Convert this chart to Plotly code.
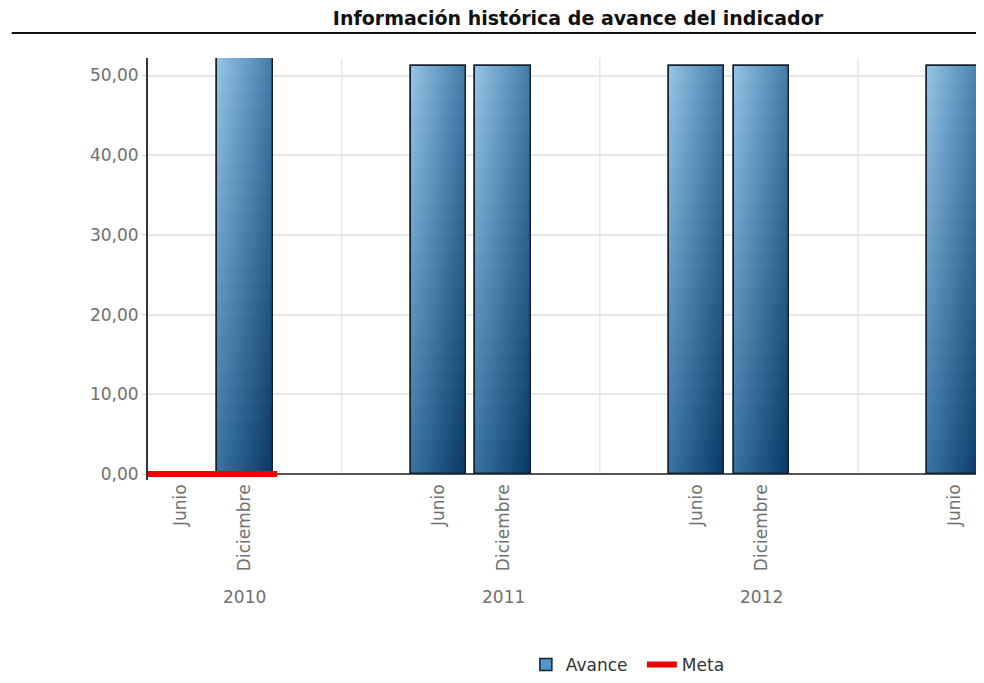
import plotly.graph_objects as go

# ---------------------------------------------
# Data
# ---------------------------------------------
PERIOD_YEARS = [2010, 2010, 2011, 2011, 2012, 2012, 2013]
PERIOD_MONTHS = ["Junio", "Diciembre", "Junio", "Diciembre", "Junio", "Diciembre", "Junio"]
AVANCE = [None, 52.16, 51.25, 51.25, 51.25, 51.25, 51.25]
META = [0, 0, None, None, None, None, None]

TITLE = "Información histórica de avance del indicador"

# ---------------------------------------------
# Layout helpers
# ---------------------------------------------
SLOTS_PER_YEAR = 4
MONTH_SLOT = {"Junio": 0, "Diciembre": 1}
first_year = min(PERIOD_YEARS)
pos = [SLOTS_PER_YEAR * (y - first_year) + MONTH_SLOT[m] for y, m in zip(PERIOD_YEARS, PERIOD_MONTHS)]

Y_RANGE = [-0.75, 52.2]
BAR_W = 0.86
NX, NY = 14, 24  # gradient grid

# bilinear gradient: light top-left -> dark bottom-right
C_BL = (55, 115, 162)
C_BR = (8, 55, 100)
C_TL = (150, 197, 230)
C_TR = (65, 122, 168)


def grad(u, v):
    c = []
    for k in range(3):
        bot = C_BL[k] + (C_BR[k] - C_BL[k]) * u
        top = C_TL[k] + (C_TR[k] - C_TL[k]) * u
        c.append(int(round(bot + (top - bot) * v)))
    return "rgb(%d,%d,%d)" % tuple(c)


fig = go.Figure()

# base bar (legend entry)
fig.add_trace(go.Bar(
    x=pos, y=AVANCE, width=BAR_W, name="Avance",
    marker=dict(color="#4f97cf", line=dict(color="#142230", width=1.5)),
    hovertemplate="%{y:.2f}<extra>Avance</extra>",
))

# gradient strips
for i in range(NX):
    off = -BAR_W / 2 + i * BAR_W / NX
    for j in range(NY):
        fig.add_trace(go.Bar(
            x=pos,
            y=[None if v is None else v * (1 - j / NY) for v in AVANCE],
            base=[None if v is None else v * j / NY for v in AVANCE],
            width=BAR_W - i * BAR_W / NX,
            offset=off,
            marker=dict(color=grad((i + 0.5) / NX, (j + 0.5) / NY), line=dict(width=0)),
            showlegend=False, hoverinfo="skip",
        ))

# outline on top
fig.add_trace(go.Bar(
    x=pos, y=AVANCE, width=BAR_W,
    marker=dict(color="rgba(0,0,0,0)", line=dict(color="#142230", width=1.5)),
    showlegend=False, hoverinfo="skip",
))

# Meta as steps spanning each category
mx, my = [], []
for p, m in zip(pos, META):
    if m is None:
        mx.append(None); my.append(None)
    else:
        mx.extend([p - 0.5, p + 0.5]); my.extend([m, m])
fig.add_trace(go.Scatter(
    x=mx, y=my, mode="lines", name="Meta",
    line=dict(color="#ee0000", width=6), cliponaxis=False,
    hoverinfo="skip",
))

# vertical separators between years
shapes = []
for k in range(1, len(set(PERIOD_YEARS))):
    xb = SLOTS_PER_YEAR * k - 1.5
    shapes.append(dict(type="line", xref="x", yref="y", x0=xb, x1=xb, y0=0, y1=Y_RANGE[1],
                       line=dict(color="#e6e6e6", width=1.5), layer="below"))
# rule under the title
shapes.append(dict(type="line", xref="paper", yref="paper", x0=-0.163, x1=1.02, y0=1.059, y1=1.059,
                   line=dict(color="#111111", width=2)))

# year labels under the December slot
annotations = []
for y, m, p in zip(PERIOD_YEARS, PERIOD_MONTHS, pos):
    if m == "Diciembre":
        annotations.append(dict(x=p, y=-0.277, xref="x", yref="paper", text=str(y),
                                showarrow=False, yanchor="middle",
                                font=dict(size=17, color="#707070")))

# the page body adds 8px around the figure, so the figure is 8px smaller
fig.update_layout(
    width=976, height=675,
    margin=dict(l=140, r=0, t=50, b=203),
    paper_bgcolor="white", plot_bgcolor="white",
    barmode="overlay", bargap=0,
    separators=",.",
    font=dict(family="DejaVu Sans", color="#707070"),
    title=dict(text="<b>" + TITLE + "</b>", x=0.584, y=0.985, xref="container", yref="container",
               xanchor="center", yanchor="middle", font=dict(size=19, color="#111111")),
    xaxis=dict(range=[-0.5, 12.45], tickvals=pos, ticktext=PERIOD_MONTHS, tickangle=-90,
               showgrid=False, zeroline=False, showline=False,
               ticks="", tickfont=dict(size=17, color="#707070")),
    yaxis=dict(range=Y_RANGE, dtick=10, tickformat=".2f", showgrid=True, gridcolor="#e6e6e6",
               gridwidth=1.5, zeroline=True, zerolinecolor="#555555", zerolinewidth=2,
               showline=True, linecolor="#333333", linewidth=2,
               ticks="outside", ticklen=4, tickcolor="#d0d0d0", tickfont=dict(size=17, color="#707070")),
    legend=dict(orientation="h", x=0.452, y=-0.438, xanchor="left", yanchor="middle",
                entrywidth=71, font=dict(size=17, color="#333333")),
    shapes=shapes, annotations=annotations,
)

fig.write_html("out.html")
